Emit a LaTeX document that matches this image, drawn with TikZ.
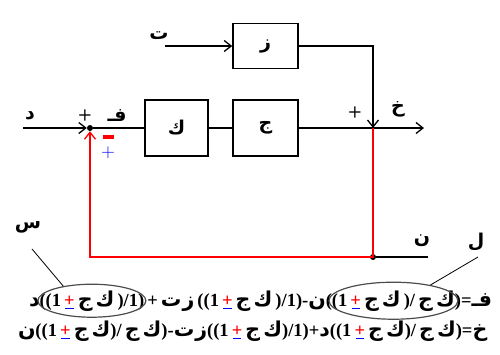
\documentclass[tikz,border=0pt]{standalone}
\usepackage{fontspec}
\setmainfont{Liberation Serif}
\newfontfamily\arabicfont[Script=Arabic]{DejaVu Sans}
\usetikzlibrary{arrows.meta, positioning, shapes.geometric}

\newcommand{\ar}[1]{\mbox{\arabicfont\bfseries\fontsize{20.5}{20.5}\selectfont #1}}
\newcommand{\pmrb}{\ooalign{\textcolor{red}{+}\cr\hidewidth\textcolor{blue}{\rule[-3pt]{0.45em}{1pt}}\hidewidth\cr}}
\newcommand{\kj}{\ar{ج}\,\ar{ك}}
\newcommand{\zt}{\ar{ت}\kern1pt\ar{ز}}

\tikzset{
  blk/.style={draw, line width=1.6pt, inner sep=0pt, font=\arabicfont\bfseries\fontsize{19}{19}\selectfont},
  lbl/.style={inner sep=0pt, font=\arabicfont\bfseries\fontsize{19}{19}\selectfont},
  sig/.style={line width=1.3pt, -{Straight Barb[length=7pt, width=11pt, line width=1.3pt]}},
  fb/.style={sig, red, line width=1.6pt},
  eqtext/.style={inner sep=0pt, outer sep=0pt, font=\bfseries\fontsize{18.5}{18.5}\selectfont},
  oval/.style={draw=black!70, line width=1.2pt, ellipse, inner sep=0pt},
}

\begin{document}
\begin{tikzpicture}[x=1pt, y=-1pt]
\useasboundingbox (0,0) rectangle (500,354);

% blocks
\node [blk, minimum width=63pt, minimum height=56pt] (K) at (176.5,128) {ك};
\node [blk, minimum width=65pt, minimum height=56pt] (G) at (265.5,128) {ج};
\node [blk, minimum width=65pt, minimum height=45pt] (Z) at (265.5,46) {ز};

% points
\node [circle, fill, inner sep=0pt, minimum size=6pt] (sum1) at (90,128) {};
\node [circle, fill, inner sep=0pt, minimum size=6pt] (n1) at (373,257) {};
\coordinate (j2)   at (373,128);
\coordinate (din)  at (23,128);
\coordinate (tin)  at (165,46);
\coordinate (yout) at (424,128);
\coordinate (nin)  at (428,257);
\coordinate (fbc)  at (90,257);

% signals
\draw [sig] (din) -- (sum1);
\draw [line width=1.3pt] (sum1) -- (K) -- (G) -- (j2);
\draw [sig] (j2) -- (yout);
\draw [sig] (tin) -- (Z);
\draw [sig] (Z.east) -| (j2);
\draw [fb] (j2) -- (n1.center) -- (fbc) -- (sum1);
\draw [line width=1.3pt] (nin) -- (n1);

% labels
\node [lbl] (lt) at (159,36) {ت};
\node [lbl] (ld) at (30,116) {د};
\node [lbl] (lf) at (117,116) {فـ};
\node [lbl] (ly) at (398,109) {خ};
\node [lbl] (ln) at (422,241) {ن};
\node [lbl] (ll) at (476,242) {ل};
\node [lbl] (ls) at (28,227) {س};
\node [inner sep=0pt, font=\sffamily\bfseries\fontsize{16}{16}\selectfont] (p1) at (85,115) {+};
\node [inner sep=0pt, font=\sffamily\bfseries\fontsize{16}{16}\selectfont] (p2) at (355,112) {+};
\node [inner sep=0pt, red] (m1) at (108,137) {\rule{11pt}{3.2pt}};
\node [inner sep=0pt, blue, font=\sffamily\fontsize{19}{19}\selectfont] (b1) at (108,153) {+};

% equations
\node [eqtext, anchor=base west] (e1a) at (29,306) {\ar{د}};
\node [eqtext, base right=0pt of e1a] (e1b) {((1\,\pmrb\,\kj\,)/1)};
\node [eqtext, base right=0pt of e1b] (e1c) {\,+\,\zt\,((1\,\pmrb\,\kj\,)/1)-\ar{ن}};
\node [eqtext, base right=0pt of e1c] (e1d) {((1\,\pmrb\,\kj\,)/\,\kj)};
\node [eqtext, base right=0pt of e1d] (e1e) {=\ar{فـ}};
\node [eqtext, anchor=base west] (e2) at (18,336)
  {\ar{ن}((1\,\pmrb\,\kj)/\,\kj)-\zt((1\,\pmrb\,\kj)/1)+\ar{د}((1\,\pmrb\,\kj)/\,\kj)=\ar{خ}};

\node [oval, minimum width=108pt, minimum height=33pt] (s1) at (e1b.center) {};
\node [oval, minimum width=129pt, minimum height=37pt] (s2) at (e1d.center) {};
\coordinate (cs) at (32,249);
\coordinate (cl) at (478,257);
\draw [line width=0.8pt] (cs) -- (s1.153);
\draw [line width=0.8pt] (cl) -- (s2.23);
\end{tikzpicture}
\end{document}
